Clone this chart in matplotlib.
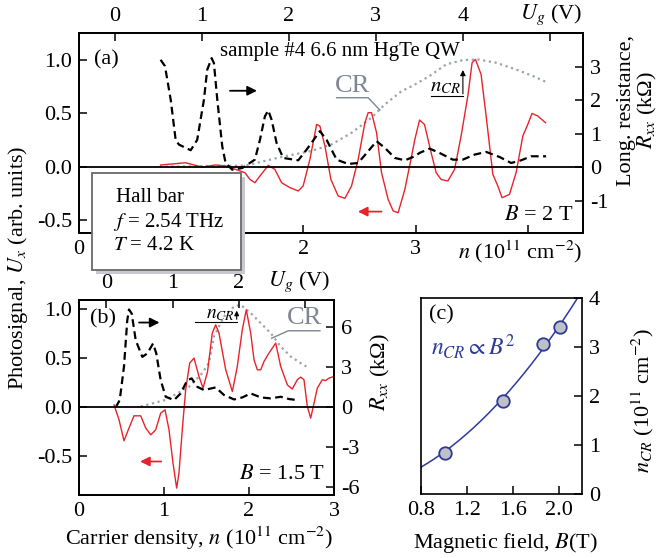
import numpy as np
import matplotlib
matplotlib.use("Agg")
import matplotlib.pyplot as plt
from matplotlib.patches import Rectangle

plt.rcParams['font.family'] = ['Liberation Serif', 'DejaVu Serif']
plt.rcParams['mathtext.fontset'] = 'stix'
plt.rcParams['axes.unicode_minus'] = False
plt.rcParams['font.size'] = 16

# ---- panel (a): B = 2 T ----
# photosignal (red, left axis)
a_sig_n = [0.727, 0.861, 0.950, 1.024, 1.098, 1.217, 1.306, 1.395, 1.478, 1.523, 1.567, 1.612,
           1.686, 1.745, 1.805, 1.879, 1.953, 1.997, 2.057, 2.117, 2.146, 2.191, 2.244, 2.309,
           2.369, 2.428, 2.487, 2.547, 2.576, 2.606, 2.651, 2.695, 2.754, 2.799, 2.843, 2.903,
           2.963, 2.992, 3.034, 3.078, 3.137, 3.182, 3.226, 3.286, 3.346, 3.404, 3.464, 3.502,
           3.532, 3.582, 3.627, 3.687, 3.731, 3.769, 3.835, 3.894, 3.954, 3.998, 4.036, 4.087, 4.156]
a_sig_u = [0.016, 0.028, 0.037, 0.016, -0.003, 0.016, 0.007, -0.025, -0.056, -0.119, -0.150, -0.087,
           0.012, -0.025, -0.150, -0.196, -0.227, -0.180, 0.068, 0.395, 0.380, 0.193, -0.119, -0.274,
           -0.296, -0.180, 0.068, 0.411, 0.505, 0.505, 0.318, -0.056, -0.306, -0.414, -0.430, -0.212,
           0.100, 0.255, 0.436, 0.395, 0.131, -0.056, -0.119, -0.134, -0.025, 0.287, 0.661, 0.972,
           1.003, 0.863, 0.474, -0.072, -0.180, -0.290, -0.259, -0.056, 0.287, 0.395, 0.498, 0.474, 0.411]
# longitudinal resistance (black dashed, right axis, kOhm)
a_res_n = [0.727, 0.766, 0.817, 0.861, 0.890, 0.995, 1.053, 1.113, 1.142, 1.182, 1.202, 1.232,
           1.276, 1.306, 1.365, 1.454, 1.567, 1.612, 1.656, 1.686, 1.716, 1.760, 1.819, 1.953,
           2.028, 2.146, 2.206, 2.295, 2.398, 2.487, 2.576, 2.651, 2.725, 2.814, 2.903, 2.992,
           3.034, 3.123, 3.212, 3.330, 3.419, 3.524, 3.627, 3.746, 3.850, 3.939, 4.028, 4.161]
a_res_r = [3.20, 3.01, 2.01, 0.81, 0.67, 0.50, 0.81, 2.01, 2.90, 3.25, 3.10, 2.01,
           0.62, 0.12, -0.08, -0.03, 0.22, 0.81, 1.51, 1.69, 1.41, 0.72, 0.27, 0.20,
           0.52, 1.07, 0.81, 0.22, 0.09, 0.12, 0.47, 0.77, 0.57, 0.27, 0.20, 0.32,
           0.42, 0.55, 0.42, 0.22, 0.22, 0.37, 0.45, 0.30, 0.12, 0.20, 0.32, 0.32]
# cyclotron resonance (gray dotted)
a_cr_n = [0.72, 1.48, 1.775, 2.07, 2.25, 2.43, 2.606, 2.725, 2.874, 2.974, 3.123, 3.27,
          3.42, 3.553, 3.716, 3.894, 4.043, 4.176]
a_cr_u = [0.0, 0.01, 0.084, 0.147, 0.208, 0.318, 0.458, 0.582, 0.707, 0.757, 0.848, 0.956,
          0.997, 1.003, 0.972, 0.909, 0.848, 0.785]

# ---- panel (b): B = 1.5 T ----
b_sig_n = [0.412, 0.471, 0.529, 0.588, 0.647, 0.726, 0.785, 0.844, 0.902, 0.961, 1.012, 1.059,
           1.106, 1.149, 1.176, 1.215, 1.255, 1.302, 1.353, 1.412, 1.459, 1.512, 1.568, 1.608,
           1.647, 1.726, 1.804, 1.862, 1.921, 1.968, 2.020, 2.059, 2.098, 2.138, 2.176, 2.235,
           2.314, 2.373, 2.451, 2.509, 2.568, 2.608, 2.647, 2.686, 2.726, 2.765, 2.804, 2.862,
           2.902, 2.941, 2.996]
b_sig_u = [0.020, -0.133, -0.347, -0.217, -0.092, -0.092, -0.217, -0.286, -0.235, -0.064, -0.031, -0.235,
           -0.574, -0.830, -0.677, -0.235, 0.173, 0.446, 0.497, 0.309, 0.191, 0.357, 0.752, 0.837,
           0.752, 0.378, 0.156, 0.411, 0.786, 0.990, 0.752, 0.480, 0.378, 0.378, 0.462, 0.548,
           0.650, 0.411, 0.224, 0.181, 0.276, 0.303, 0.276, 0.003, -0.115, 0.038, 0.191, 0.276,
           0.268, 0.293, 0.309]
b_res_n = [0.432, 0.479, 0.529, 0.568, 0.588, 0.620, 0.667, 0.745, 0.804, 0.871, 0.909, 0.961,
           1.020, 1.118, 1.196, 1.274, 1.326, 1.392, 1.471, 1.608, 1.706, 1.824, 1.921, 2.020,
           2.138, 2.255, 2.373, 2.471, 2.568]
b_res_r = [-0.02, 0.52, 3.01, 6.49, 7.29, 6.99, 5.00, 3.75, 4.01, 4.75, 4.01, 2.01,
           0.77, 0.52, 1.02, 2.01, 2.14, 1.51, 1.27, 1.47, 0.90, 0.57, 0.72, 1.02,
           0.72, 0.65, 0.77, 0.60, 0.52]
b_cr_n = [0.726, 1.020, 1.294, 1.451, 1.529, 1.588, 1.706, 1.824, 1.902, 2.020, 2.138, 2.255,
          2.373, 2.491, 2.608, 2.706]
b_cr_u = [0.003, 0.071, 0.204, 0.344, 0.449, 0.717, 0.921, 1.023, 1.041, 0.956, 0.854, 0.752,
          0.615, 0.513, 0.446, 0.395]

# ---- panel (c): CR position vs field ----
c_field = [1.007, 1.51, 1.86, 2.01]
c_ncr = [0.84, 1.90, 3.06, 3.41]

RED = '#e8232b'
BLUE = '#2d3a9a'
DOT = '#9ca3ad'
CRG = '#7d8791'
W, H = 660, 558


def box(x0, y0, x1, y1):
    return [x0 / W, 1 - y1 / H, (x1 - x0) / W, (y1 - y0) / H]


def style(ax):
    for s in ax.spines.values():
        s.set_linewidth(1.2)
    ax.tick_params(direction='in', length=6, width=1.1, pad=5, labelsize=16,
                   labelfontfamily='Liberation Serif')


fig = plt.figure(figsize=(6.6, 5.58), dpi=100)
dashes = (0, (3.5, 2.0))

# ---------------- (a) ----------------
ax = fig.add_axes(box(79, 33, 583, 233))
style(ax)
ax.plot(a_cr_n, a_cr_u, color=DOT, lw=1.6, ls=(0, (1, 1.6)))
ax.plot(a_sig_n, a_sig_u, color=RED, lw=1.0)
ax.axhline(0, color='k', lw=1.3)
ax.set_xlim(0, 4.49)
ax.set_ylim(-0.62, 1.25)
ax.set_yticks([-0.5, 0, 0.5, 1.0])
ax.set_yticklabels(['-0.5', '0.0', '0.5', '1.0'])
ax.set_xticks([0, 1, 2, 3, 4])
ax.set_xticklabels(['0', '', '2', '3', ''])
ax.text(0.13, 1.0, '(a)', ha='left', va='center')
ax.text(1.26, 1.08, 'sample #4 6.6 nm HgTe QW', ha='left', va='center', fontsize=15)
ax.text(4.4, -0.46, '$B$ = 2 T', ha='right', va='center')
ax.annotate('', xy=(1.61, 0.71), xytext=(1.32, 0.71),
            arrowprops=dict(arrowstyle='-|>', color='k', lw=1.3, mutation_scale=14))
ax.annotate('', xy=(2.46, -0.42), xytext=(2.72, -0.42),
            arrowprops=dict(arrowstyle='-|>', color=RED, lw=1.3, mutation_scale=14))
ax.plot([3.14, 3.42], [0.66, 0.66], color='k', lw=0.8)
ax.annotate('', xy=(3.42, 0.93), xytext=(3.42, 0.655),
            arrowprops=dict(arrowstyle='-|>', color='k', lw=0.8, mutation_scale=8))
ax.text(3.40, 0.75, '$n_{CR}$', ha='right', va='center', fontsize=15)
ax.plot([2.295, 2.576, 2.68], [0.645, 0.645, 0.53], color=CRG, lw=1.0)
ax.text(2.435, 0.755, 'CR', color=CRG, ha='center', va='center', fontsize=19)

axr = ax.twinx()
style(axr)
axr.plot(a_res_n, a_res_r, color='k', lw=1.6, ls=dashes)
axr.set_ylim(-1.97, 4.0)
axr.set_yticks([-1, 0, 1, 2, 3])
axr.set_yticklabels(['-1', '0', '1', '2', '3'])

axt = ax.twiny()
style(axt)
axt.set_xlim(-0.41, 5.38)
axt.set_xticks([0, 1, 2, 3, 4, 5])
axt.set_xticklabels(['0', '1', '2', '3', '4', ''])

fig.text(582 / W, 1 - 15 / H, '$U_g$ (V)', ha='right', va='center')
fig.text(582 / W, 1 - 252 / H, '$n$ (10$^{11}$ cm$^{-2}$)', ha='right', va='center')
fig.text(627 / W, 1 - 110 / H, 'Long. resistance,', rotation=90, ha='center', va='center')
fig.text(647 / W, 1 - 110 / H, '$R_{xx}$ (kΩ)', rotation=90, ha='center', va='center')

# ---------------- (b) ----------------
bx = fig.add_axes(box(79, 300, 334, 495))
style(bx)
bx.plot(b_cr_n, b_cr_u, color=DOT, lw=1.6, ls=(0, (1, 1.6)))
bx.plot(b_sig_n, b_sig_u, color=RED, lw=1.0)
bx.axhline(0, color='k', lw=1.3)
bx.set_xlim(0, 3)
bx.set_ylim(-0.90, 1.09)
bx.set_yticks([-0.5, 0, 0.5, 1.0])
bx.set_yticklabels(['-0.5', '0.0', '0.5', '1.0'])
bx.set_xticks([0, 1, 2, 3])
bx.text(0.13, 0.90, '(b)', ha='left', va='center')
bx.text(2.9, -0.69, '$B$ = 1.5 T', ha='right', va='center')
bx.annotate('', xy=(0.98, 0.86), xytext=(0.674, 0.86),
            arrowprops=dict(arrowstyle='-|>', color='k', lw=1.3, mutation_scale=14))
bx.annotate('', xy=(0.686, -0.558), xytext=(1.0, -0.558),
            arrowprops=dict(arrowstyle='-|>', color=RED, lw=1.3, mutation_scale=14))
bx.plot([1.365, 1.855], [0.87, 0.87], color='k', lw=0.8)
bx.annotate('', xy=(1.855, 1.01), xytext=(1.855, 0.865),
            arrowprops=dict(arrowstyle='-|>', color='k', lw=0.8, mutation_scale=7))
bx.text(1.83, 0.945, '$n_{CR}$', ha='right', va='center', fontsize=14)
bx.plot([2.835, 2.462, 2.267], [0.776, 0.776, 0.70], color=CRG, lw=1.0)
bx.text(2.65, 0.905, 'CR', color=CRG, ha='center', va='center', fontsize=19)

bxr = bx.twinx()
style(bxr)
bxr.plot(b_res_n, b_res_r, color='k', lw=1.6, ls=dashes)
bxr.set_ylim(-6.57, 8.0)
bxr.set_yticks([-6, -3, 0, 3, 6])
bxr.set_yticklabels(['-6', '-3', '0', '3', '6'])

bxt = bx.twiny()
style(bxt)
bxt.set_xlim(-0.41, 3.43)
bxt.set_xticks([0, 1, 2, 3])
bxt.set_xticklabels(['0', '1', '2', ''])

fig.text(330 / W, 1 - 282 / H, '$U_g$ (V)', ha='right', va='center')
fig.text(199 / W, 1 - 538 / H, 'Carrier density, $n$ (10$^{11}$ cm$^{-2}$)', ha='center', va='center')
fig.text(380 / W, 1 - 372 / H, '$R_{xx}$ (kΩ)', rotation=90, ha='center', va='center')
fig.text(18 / W, 1 - 268 / H, 'Photosignal, $U_x$ (arb. units)', rotation=90, ha='center', va='center')

# ---------------- (c) ----------------
cx = fig.add_axes(box(421, 298, 582, 494))
style(cx)
k = np.sum(np.array(c_ncr) * np.array(c_field) ** 2) / np.sum(np.array(c_field) ** 4)
bb = np.linspace(0.8, 2.2, 200)
cx.plot(bb, k * bb ** 2, color=BLUE, lw=1.1)
cx.plot(c_field, c_ncr, 'o', ms=9, mfc='#bfc1c8', mec=BLUE, mew=1.3)
cx.set_xlim(0.8, 2.2)
cx.set_ylim(0, 4)
cx.set_xticks([0.8, 1.2, 1.6, 2.0])
cx.set_xticklabels(['0.8', '1.2', '1.6', '2.0'])
cx.yaxis.tick_right()
cx.set_yticks([0, 1, 2, 3, 4])
cx.tick_params(axis='y', right=True, left=False)
cx.text(0.87, 3.65, '(c)', ha='left', va='center')
cx.text(0.89, 3.0, '$n_{CR}$$\\propto$$B^2$', color=BLUE, ha='left', va='center', fontsize=17)
fig.text(505 / W, 1 - 543 / H, 'Magnetic field, $B$(T)', ha='center', va='center')
fig.text(643 / W, 1 - 400 / H, '$n_{CR}$ (10$^{11}$ cm$^{-2}$)', rotation=90, ha='center', va='center')

# ---------------- info box ----------------
fig.add_artist(Rectangle((96 / W, 1 - 274 / H), 149 / W, 97 / H, transform=fig.transFigure,
                         facecolor='#c8c9ce', edgecolor='none', zorder=10))
fig.add_artist(Rectangle((92 / W, 1 - 270 / H), 149 / W, 97 / H, transform=fig.transFigure,
                         facecolor='white', edgecolor='#6a6a6a', lw=1.3, zorder=11))
fig.text(116 / W, 1 - 197 / H, 'Hall bar', ha='left', va='center', zorder=12, fontsize=15)
fig.text(113 / W, 1 - 222 / H, '$f$ = 2.54 THz', ha='left', va='center', zorder=12, fontsize=15)
fig.text(113 / W, 1 - 245 / H, '$T$ = 4.2 K', ha='left', va='center', zorder=12, fontsize=15)

fig.savefig('out.png', dpi=100)
